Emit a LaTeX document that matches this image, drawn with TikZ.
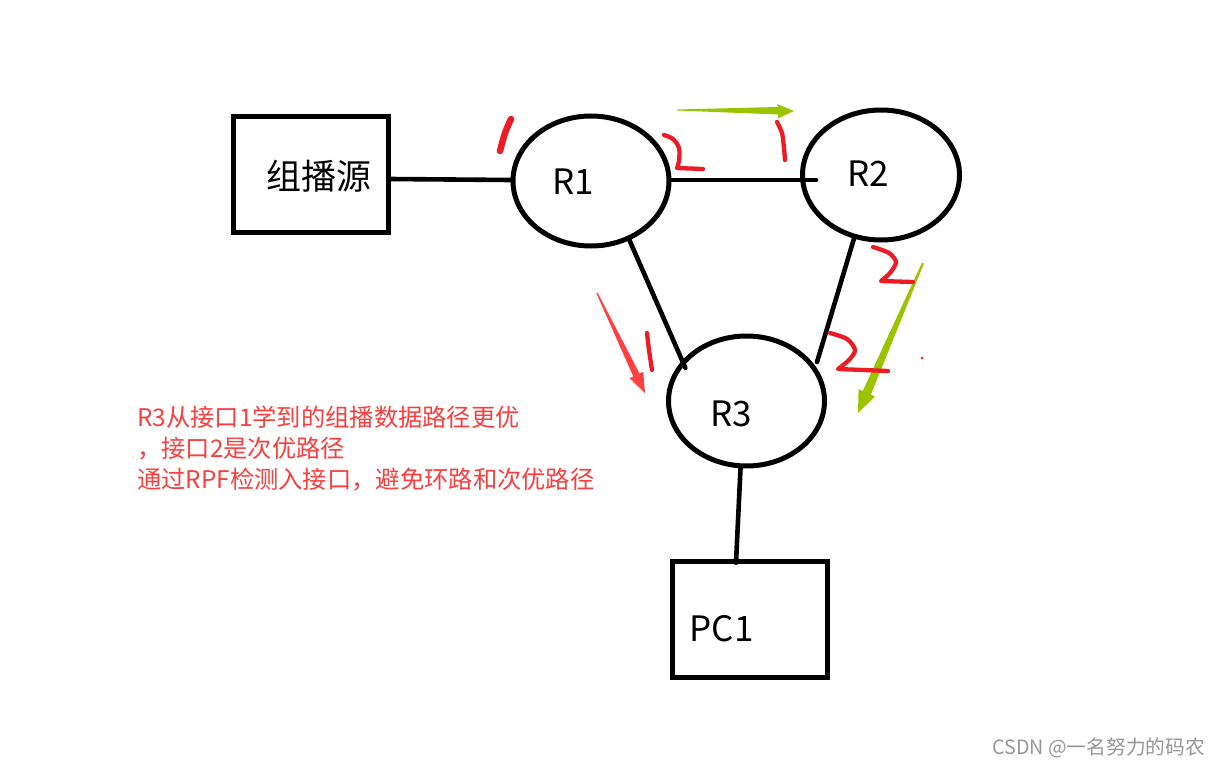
\documentclass[tikz,border=0pt]{standalone}
\usepackage{fontspec}
\newfontfamily\cjk{Noto Sans CJK SC}
\usetikzlibrary{shapes.geometric,calc}
\definecolor{inkred}{RGB}{237,28,36}
\definecolor{txtred}{RGB}{250,62,62}
\definecolor{arrgreen}{RGB}{155,196,0}
\definecolor{arrred}{RGB}{255,64,64}
\definecolor{wmgray}{RGB}{150,150,150}
\tikzset{
  router/.style={draw=black, line width=5pt, ellipse, inner sep=0pt, minimum width=#1},
  hostbox/.style={draw=black, line width=5.5pt, rectangle, inner sep=0pt, minimum width=155pt, minimum height=116pt},
  biglabel/.style={font=\cjk\fontsize{35}{40}\selectfont, inner sep=0pt},
  link/.style={draw=black, line width=4.6pt, line cap=round},
  redmark/.style={draw=inkred, line width=4.3pt, line cap=round, line join=round},
  notetext/.style={font=\cjk\fontsize{24.3}{28}\selectfont, text=txtred, inner sep=0pt, anchor=west},
  greenarr/.style={fill=arrgreen, draw=none},
  redarr/.style={fill=arrred, draw=none}
}
\begin{document}
\begin{tikzpicture}[x=1pt,y=-1pt]
\useasboundingbox (0,0) rectangle (1220,767);
% hosts
\node[hostbox] (src) at (311,174.5) {};
\node[biglabel] (srct) at (319,176) {组播源};
\node[hostbox] (pc1) at (750,619.5) {};
\node[biglabel] (pc1t) at (721.5,628.5) {PC1};
% routers
\node[router=156pt, minimum height=130pt] (R1) at (591,181) {};
\node[biglabel] (R1t) at (573,182) {R1};
\node[router=157pt, minimum height=130pt] (R2) at (881,175) {};
\node[biglabel] (R2t) at (868.5,173.5) {R2};
\node[router=156pt, minimum height=130pt] (R3) at (746.5,401) {};
\node[biglabel] (R3t) at (731,414) {R3};
% links
\coordinate (r2in) at ($(R2.west)+(16,5)$);
\coordinate (r3a) at ($(R3.151)+(6,4)$);
\coordinate (r3b) at (817,362);
\coordinate (pcin) at ($(pc1.north)+(-14,4)$);
\draw[link] ($(src.east)+(-2,4.5)$) -- (R1.west |- 0,180);
\draw[link] (R1.east |- 0,180) -- (r2in);
\draw[link] (R1.-57) -- (r3a);
\draw[link] (R2.-113) -- (r3b);
\draw[link] ($(R3.south)+(-6,0)$) -- (pcin);
% green arrows
\fill[greenarr] (677,109.5) -- (778,107) -- (777,104) -- (794,111) -- (778,118.5) -- (778,114.5) -- (677,110.5) -- cycle;
\fill[greenarr] (924,263.4) -- (870.9,394.6) -- (875.0,396.4) -- (858,413) -- (858.6,389.2) -- (862.7,391.0) -- (922,262.6) -- cycle;
% red arrow
\fill[redarr] (597.6,292.7) -- (639.5,373.5) -- (643.2,371.8) -- (645,393) -- (629.6,378.2) -- (633.3,376.5) -- (596.4,293.3) -- cycle;
% hand-drawn interface marks
\draw[redmark, line width=6.5pt] plot[smooth] coordinates {(511,119) (505,133) (500,151)};
\draw[redmark] plot[smooth] coordinates {(664,135) (673,139) (679,148) (679,161) (677,168)} -- (703,169);
\draw[redmark] plot[smooth] coordinates {(777,122) (782,133) (784,148) (785,160)};
\draw[redmark] plot[smooth] coordinates {(873,247) (889,253) (896,262) (890,273) (881,281)} -- (913,282);
\draw[redmark] plot[smooth] coordinates {(647,333) (649,350) (652,370)};
\draw[redmark] plot[smooth] coordinates {(830,333) (847,339) (855,350) (849,360) (838,369)} -- (888,371);
\fill[inkred] (922,358) circle (1.5);
% note text
\node[notetext] (n1) at (137,417) {R3从接口1学到的组播数据路径更优};
\node[notetext] (n2) at (137,449) {，接口2是次优路径};
\node[notetext] (n3) at (137,480) {通过RPF检测入接口，避免环路和次优路径};
% watermark
\node[font=\cjk\fontsize{19.7}{22}\selectfont, text=wmgray, inner sep=0pt, anchor=east] (wm) at (1205,748) {CSDN @一名努力的码农};
\end{tikzpicture}
\end{document}
